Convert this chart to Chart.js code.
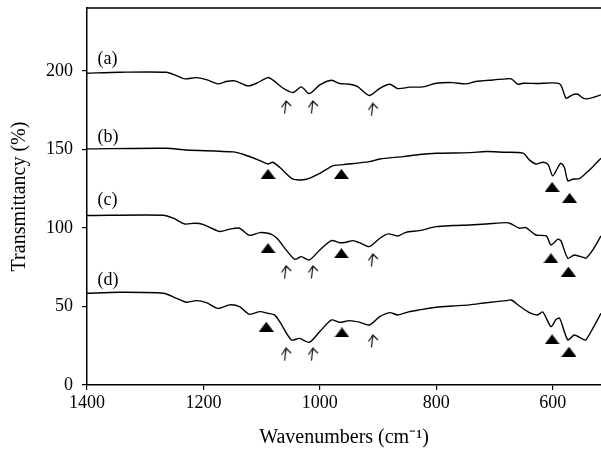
<!DOCTYPE html>
<html>
<head>
<meta charset="utf-8">
<script src="https://cdn.jsdelivr.net/npm/chart.js@4.4.0/dist/chart.umd.min.js"></script>
<style>
html, body { margin: 0; padding: 0; background: #fff; }
</style>
</head>
<body>
<canvas id="chartFTIR" width="601" height="451"></canvas>
<script>
// Espectros FTIR (a)-(d)
const waveA = [1400,1344,1264,1246,1232,1212,1195,1175,1161,1146,1123,1109,1089,1081,1063,1046,1032,1018,1000,980,966,949,935,915,897,880,866,846,823,800,772,749,732,703,680,671,660,651,628,588,577,566,557,548,540,531,517];
const transA = [198.5,199.1,199.1,197,194.9,195.7,194.4,191.7,193.2,193.6,190.4,192.1,195.7,194.2,188.9,186.2,189.8,185.5,191,194,191.9,191.5,190,184.3,188.9,191.5,188.7,189.6,189.8,192.1,192.5,191.7,193.2,194.2,194.9,194.9,191.5,192.1,191.9,191.7,182.6,184.7,185.1,182.6,182.2,183,184.7];

const waveB = [1400,1264,1229,1149,1132,1103,1089,1081,1069,1046,1023,1000,978,966,955,915,897,857,829,800,743,714,686,651,640,629,617,608,600,591,586,580,574,566,554,543,531,517];
const transB = [150.3,150.7,149.6,148.4,146.9,142.9,140.7,141.8,138.6,131,131,134.8,139.5,140.1,140.5,142.2,143.9,145.4,146.7,147.5,147.9,148.6,148.2,147.6,143.3,140.7,141.8,140.5,133.1,138.6,141.2,138.6,129.9,131,131.4,134.8,139,144.4];

const waveC = [1400,1269,1252,1232,1215,1201,1172,1155,1138,1121,1103,1089,1081,1072,1058,1043,1032,1018,1000,980,966,955,943,932,915,897,883,866,852,829,800,772,743,714,680,671,657,646,629,611,603,591,586,574,563,548,543,531,517];
const transC = [107.9,108.1,106.2,102.5,103,102.3,97.7,99.2,99.8,95.3,97,96.6,95.5,92.8,86,80,81.7,79.6,86,91.9,90.6,90.9,91.9,90.6,88.1,93.4,96.2,94.9,97.2,98.3,100.8,101.5,101.9,102.5,103.4,102.5,99.8,100.2,95.5,94.9,89.2,92.8,91.9,80.7,82.8,81.3,80.7,86,94.9];

const waveD = [1400,1344,1269,1246,1229,1212,1195,1175,1155,1138,1121,1103,1089,1078,1069,1049,1035,1018,1000,980,966,949,932,915,897,880,866,846,829,800,772,743,714,680,671,657,640,626,617,603,594,588,574,563,548,543,531,517];
const transD = [58.4,59,58.4,55.2,52.7,53.7,52.4,48.8,51,49.9,45,46.7,45.6,44.6,40.3,28.7,29.7,27.2,34,41.4,39.9,41,40,38.2,43.5,46.1,44.6,46.7,47.8,49.5,50.3,51,52.4,53.7,54.1,50.3,46.1,44.6,46.5,37.2,41.8,42.5,28.7,31.8,29.1,28.7,36.1,45.6];

// Marcadores (triângulos e setas)
const triWave = [1089,963,601,571, 1089,963,603,573, 1092,962,601,572];
const triTrans = [134.4,134.4,126.1,119.1, 87.1,83.9,80.7,72.2, 37.1,33.5,29.1,21.2];
const arrowWave = [1058,1012,909, 1058,1012,909, 1058,1012,909];
const arrowTrans = [177,177,175.4, 72,72,79.6, 19.6,19.6,28];

// Rótulos das curvas e ticks
const seriesLabels = ['(a)', '(b)', '(c)', '(d)'];
const labelTrans = [207.6, 158, 117.8, 66.9];
const labelWave = 1382;
const xTicks = [1400, 1200, 1000, 800, 600];
const yTicks = [0, 50, 100, 150, 200];

const fonte = '"Liberation Serif", "Times New Roman", serif';

function pontos(xs, ys) {
    return xs.map((x, i) => ({ x: x, y: ys[i] }));
}

// Triângulo preenchido
const triImg = document.createElement('canvas');
triImg.width = 15; triImg.height = 10;
(function() {
    const c = triImg.getContext('2d');
    c.fillStyle = '#000';
    c.beginPath();
    c.moveTo(7.5, 0);
    c.lineTo(15, 10);
    c.lineTo(0, 10);
    c.closePath();
    c.fill();
})();

// Seta aberta
const arrowImg = document.createElement('canvas');
arrowImg.width = 12; arrowImg.height = 14;
(function() {
    const c = arrowImg.getContext('2d');
    c.strokeStyle = '#111';
    c.lineWidth = 1.2;
    c.beginPath();
    c.moveTo(1.5, 7.5);
    c.lineTo(6, 1);
    c.lineTo(11, 6);
    c.moveTo(6, 1);
    c.lineTo(4.5, 13.5);
    c.stroke();
})();

const rotulosPlugin = {
    id: 'rotulos',
    afterDatasetsDraw(chart) {
        const { ctx, chartArea, scales: { x, y } } = chart;
        ctx.save();
        ctx.strokeStyle = '#000';
        ctx.lineWidth = 1.5;
        ctx.beginPath();
        ctx.moveTo(chartArea.left, chartArea.top);
        ctx.lineTo(chartArea.right, chartArea.top);
        ctx.stroke();
        ctx.font = '18px ' + fonte;
        ctx.fillStyle = '#000';
        ctx.textAlign = 'left';
        ctx.textBaseline = 'middle';
        seriesLabels.forEach((t, i) => {
            ctx.fillText(t, x.getPixelForValue(labelWave), y.getPixelForValue(labelTrans[i]));
        });
        ctx.restore();
    }
};

function linha(xs, ys) {
    return {
        type: 'line',
        data: pontos(xs, ys),
        borderColor: '#000',
        borderWidth: 1.4,
        pointRadius: 0,
        tension: 0.25,
        fill: false
    };
}

new Chart(document.getElementById('chartFTIR'), {
    type: 'line',
    data: {
        datasets: [
            linha(waveA, transA),
            linha(waveB, transB),
            linha(waveC, transC),
            linha(waveD, transD),
            {
                type: 'scatter',
                data: pontos(triWave, triTrans),
                pointStyle: triImg,
                pointRadius: 6,
                showLine: false
            },
            {
                type: 'scatter',
                data: pontos(arrowWave, arrowTrans),
                pointStyle: arrowImg,
                pointRadius: 6,
                showLine: false
            }
        ]
    },
    options: {
        responsive: false,
        animation: false,
        layout: { autoPadding: false, padding: { top: 8, right: 0, left: 0, bottom: 0 } },
        plugins: {
            legend: { display: false },
            tooltip: { enabled: false }
        },
        scales: {
            x: {
                type: 'linear',
                reverse: true,
                min: 517,
                max: 1400,
                afterBuildTicks: s => { s.ticks = xTicks.map(v => ({ value: v })); },
                afterFit: s => {
                    s.height = 66;
                    s.paddingLeft = 0; s.paddingRight = 0;
                },
                border: { display: true, color: '#000', width: 1.5 },
                grid: { drawOnChartArea: false, drawTicks: true, tickLength: 5, color: '#000', lineWidth: 1.2 },
                ticks: {
                    color: '#000',
                    font: { family: fonte, size: 18 },
                    padding: 2,
                    maxRotation: 0,
                    callback: v => String(v)
                },
                title: {
                    display: true,
                    text: 'Wavenumbers (cm\u207B\u00B9)',
                    color: '#000',
                    font: { family: fonte, size: 20 },
                    padding: { top: 0, bottom: 1 }
                }
            },
            y: {
                min: 0,
                max: 240,
                afterBuildTicks: s => { s.ticks = yTicks.map(v => ({ value: v })); },
                afterFit: s => {
                    s.width = 87;
                    s.paddingTop = 0; s.paddingBottom = 0;
                },
                border: { display: true, color: '#000', width: 1.5 },
                grid: { drawOnChartArea: false, drawTicks: true, tickLength: 5, color: '#000', lineWidth: 1.2 },
                ticks: {
                    color: '#000',
                    font: { family: fonte, size: 18 },
                    padding: 9,
                    callback: v => String(v)
                },
                title: {
                    display: true,
                    text: 'Transmittancy (%)',
                    color: '#000',
                    font: { family: fonte, size: 20 },
                    padding: { top: 8, bottom: 0 }
                }
            }
        }
    },
    plugins: [rotulosPlugin]
});
</script>
</body>
</html>
